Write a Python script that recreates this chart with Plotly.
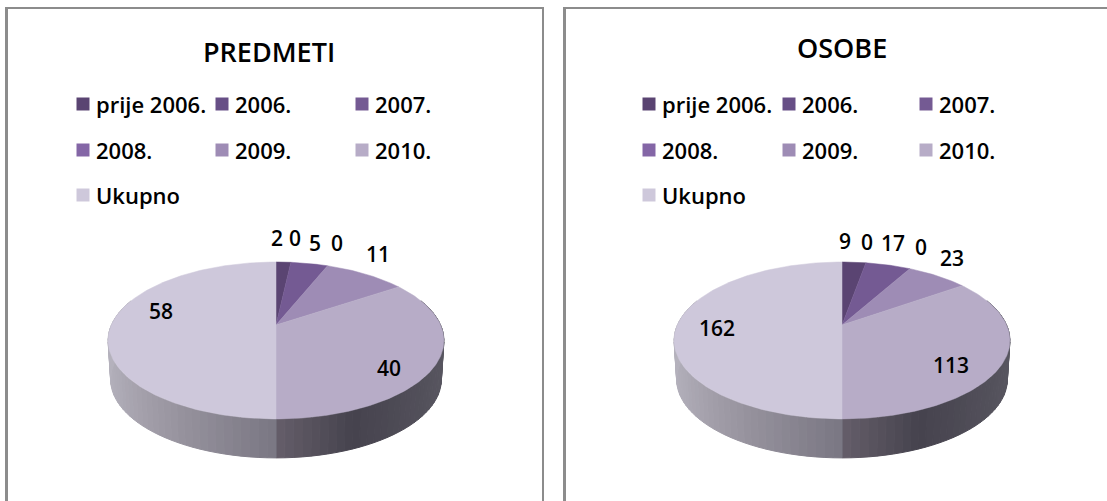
import numpy as np
import plotly.graph_objects as go

# ---- data ----
categories = ["prije 2006.", "2006.", "2007.", "2008.", "2009.", "2010.", "Ukupno"]
predmeti_values = [2, 0, 5, 0, 11, 40, 58]
osobe_values = [9, 0, 17, 0, 23, 113, 162]
titles = ["PREDMETI", "OSOBE"]

# ---- style / layout ----
colors = ["#5A4472", "#674F86", "#745A93", "#8466A6", "#9E8CB5", "#B7ACC7", "#CEC8DB"]
W, H = 1107, 501
FONT = "Open Sans"
GRAY = "#8C8C8C"
panels = [
    dict(cx=276, title_x=269, title_y=51, key_x=[83, 222, 362],
         label_xy=[(277, 238), (295, 238), (315, 243), (337, 243), (378, 254), (389, 368), (161, 311)]),
    dict(cx=842, title_x=842, title_y=47, key_x=[649, 789, 926],
         label_xy=[(845, 241), (867, 242), (893, 243), (921, 247), (952, 258), (951, 365), (717, 328)]),
]
KEY_ROWS = [104, 150, 195]
CY, A, B, K, DEPTH, XS = 325, 164.6, 75.4, 0.197, 39, 0.985


def project(theta, cx, cy=CY, a=A):
    """Map a clockwise-from-12-o'clock angle to a tilted, perspective ellipse."""
    u, v = np.sin(theta), np.cos(theta)
    d = 1 + K * v
    return cx + a * u / d, cy - B * v / d


def hex_rgb(h):
    return np.array([int(h[i:i + 2], 16) for i in (1, 3, 5)], float)


def side_color(theta):
    u = np.sin(theta)
    if u >= 0:
        xs, cs = [0, 0.38, 1], ["#655E6A", "#46434E", "#5A5862"]
    else:
        xs, cs = [-1, -0.5, -0.0], ["#B6B3BE", "#98949F", "#7A7783"]
    rgb = [np.interp(u, xs, [hex_rgb(c)[i] for c in cs]) for i in range(3)]
    return "rgb(%d,%d,%d)" % tuple(rgb)


fig = go.Figure()

for panel, values, title in zip(panels, [predmeti_values, osobe_values], titles):
    cx = panel["cx"]

    # extruded rim, drawn as narrow shaded strips
    edges = np.radians(np.arange(70, 291, 2.5))
    for t1, t2 in zip(edges[:-1], edges[1:]):
        ts = np.array([t1, t2])
        xt, yt = project(ts, cx)
        xb, yb = project(ts, cx, CY + DEPTH, A * XS)
        col = side_color((t1 + t2) / 2)
        fig.add_trace(go.Scatter(
            x=[xt[0], xt[1], xb[1], xb[0], xt[0]], y=[yt[0], yt[1], yb[1], yb[0], yt[0]],
            mode="lines", fill="toself", fillcolor=col, line=dict(color=col, width=1),
            hoverinfo="skip", showlegend=False))

    # top face slices
    total = sum(values)
    start = 0.0
    for name, val, col in zip(categories, values, colors):
        end = start + val / total * 2 * np.pi
        if val > 0:
            arc = np.linspace(start, end, int(np.degrees(end - start)) + 3)
            ax, ay = project(arc, cx)
            fig.add_trace(go.Scatter(
                x=[cx, *ax, cx], y=[CY, *ay, CY], mode="lines", fill="toself",
                fillcolor=col, line=dict(color=col, width=0.5), name=name,
                hoverinfo="name", showlegend=False))
        start = end

    # data labels
    for val, (lx, ly) in zip(values, panel["label_xy"]):
        fig.add_annotation(x=lx, y=ly, text=str(val), showarrow=False,
                           font=dict(family=FONT, size=21, color="#000000", weight=600))

    # legend keys and names
    for i, (name, col) in enumerate(zip(categories, colors)):
        kx, ky = panel["key_x"][i % 3], KEY_ROWS[i // 3]
        fig.add_trace(go.Scatter(
            x=[kx], y=[ky], mode="markers", hoverinfo="skip", showlegend=False,
            marker=dict(symbol="square", size=13, color=col, line=dict(width=0))))
        fig.add_annotation(x=kx + 11, y=ky, text=name, showarrow=False, xanchor="left",
                           font=dict(family=FONT, size=22, color="#000000", weight=600))

    # chart title
    fig.add_annotation(x=panel["title_x"], y=panel["title_y"], text=title, showarrow=False,
                       font=dict(family=FONT, size=27, color="#000000", weight=600))

# panel frames
line_thin = dict(color=GRAY, width=2)
for x0, x1, y0, y1, ln in [
    (6.5, 6.5, 7, H, dict(color=GRAY, width=3)),
    (5, 543, 8, 8, line_thin),
    (543, 543, 7, H, line_thin),
    (564.5, 564.5, 7, H, dict(color=GRAY, width=3)),
    (563, W, 8, 8, line_thin),
]:
    fig.add_shape(type="line", x0=x0, x1=x1, y0=y0, y1=y1, line=ln, layer="below")

fig.update_layout(
    width=W, height=H, margin=dict(l=0, r=0, t=0, b=0),
    paper_bgcolor="#FFFFFF", plot_bgcolor="#FFFFFF", showlegend=False,
    xaxis=dict(range=[0, W], visible=False, fixedrange=True),
    yaxis=dict(range=[H, 0], visible=False, fixedrange=True),
)
fig.write_html("out.html", config={"displayModeBar": False},
               post_script="document.body.style.margin='0';document.body.style.overflow='hidden';")
